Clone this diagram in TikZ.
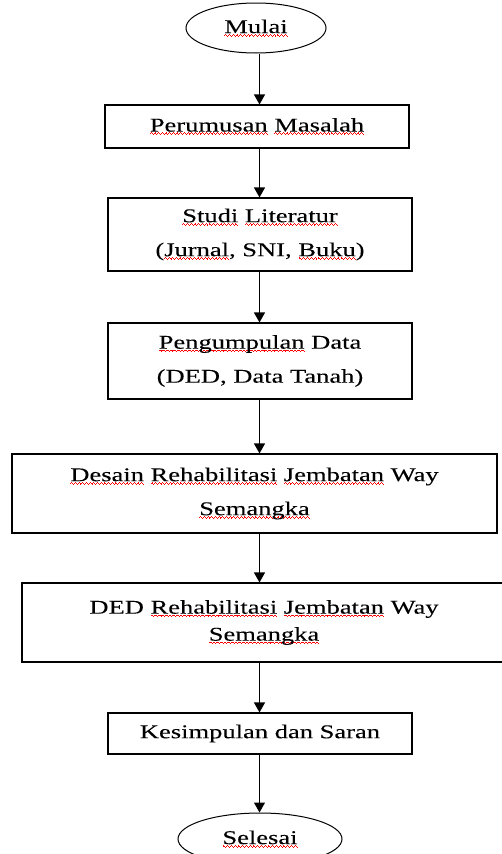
\documentclass[tikz,border=0pt]{standalone}
\usepackage{fontspec}
\setmainfont{Liberation Serif}[FakeStretch=1.36,FakeBold=0.1]
\usetikzlibrary{arrows.meta,shapes.geometric}
\newcommand\wavebit{\hbox{\rule[-2.6pt]{0.9pt}{0.9pt}\rule[-1.8pt]{0.9pt}{0.9pt}\rule[-2.6pt]{0.9pt}{0.9pt}\rule[-3.4pt]{0.9pt}{0.9pt}}}
\newcommand\sq[1]{\setbox0\hbox{#1}\leavevmode\rlap{\hbox to\wd0{\color{red}\xleaders\wavebit\hfil}}\box0{}}
\tikzset{
  box/.style={draw, line width=1.1pt, inner sep=0pt, align=center,
    font=\fontsize{19.5pt}{34pt}\selectfont},
  oval/.style={draw, ellipse, line width=1pt, inner sep=0pt, align=center,
    font=\fontsize{19.5pt}{34pt}\selectfont},
  arr/.style={line width=1.1pt, -{Triangle[length=10pt,width=11pt]}}
}
\begin{document}
\begin{tikzpicture}[x=1pt,y=-1pt]
\useasboundingbox (0,0) rectangle (502,854);
\coordinate (X) at (259.5,0);
\node[oval, minimum width=140pt, minimum height=50pt] (mulai) at (256,28) {\sq{Mulai}};
\node[box, minimum width=304pt, minimum height=43pt] (perum) at (257,126.5) {\sq{Perumusan} \sq{Masalah}};
\node[box, minimum width=304pt, minimum height=73pt] (studi) at (260,234.5) {\sq{Studi} \sq{Literatur}\\(\sq{Jurnal}, SNI, \sq{Buku})};
\node[box, minimum width=304pt, minimum height=76pt] (kumpul) at (260,361) {\sq{Pengumpulan} Data\\(DED, Data Tanah)};
\node[box, minimum width=485pt, minimum height=79pt] (desain) at (254.5,493.5) {\sq{Desain} \sq{Rehabilitasi} \sq{Jembatan} Way\\\sq{Semangka}};
\node[box, minimum width=484pt, minimum height=79pt, font=\fontsize{19.5pt}{27pt}\selectfont] (ded) at (264,622.5) {DED \sq{Rehabilitasi} \sq{Jembatan} Way\\\sq{Semangka}};
\node[box, minimum width=304pt, minimum height=41pt] (kesim) at (260,733.5) {Kesimpulan dan Saran};
\node[oval, minimum width=164pt, minimum height=52pt] (selesai) at (260,839) {\sq{Selesai}};
\draw[arr] (mulai.south -| X) -- (perum.north -| X);
\draw[arr] (perum.south -| X) -- (studi.north -| X);
\draw[arr] (studi.south -| X) -- (kumpul.north -| X);
\draw[arr] (kumpul.south -| X) -- (desain.north -| X);
\draw[arr] (desain.south -| X) -- (ded.north -| X);
\draw[arr] (ded.south -| X) -- (kesim.north -| X);
\draw[arr] (kesim.south -| X) -- (selesai.north -| X);
\end{tikzpicture}
\end{document}
